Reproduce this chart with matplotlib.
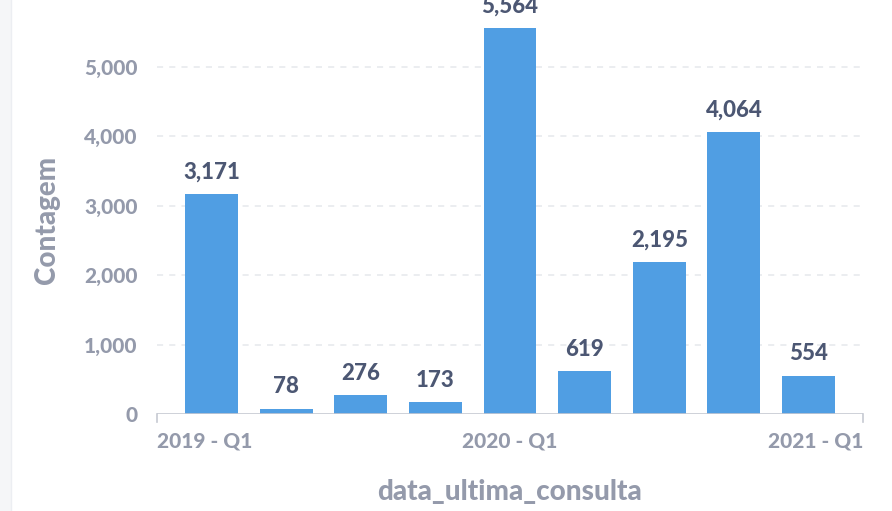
import matplotlib
matplotlib.use("Agg")
import matplotlib.pyplot as plt
from matplotlib.patches import Rectangle
from matplotlib.lines import Line2D

quarters = ["2019 - Q1", "2019 - Q2", "2019 - Q3", "2019 - Q4", "2020 - Q1",
            "2020 - Q2", "2020 - Q3", "2020 - Q4", "2021 - Q1"]
counts = [3171, 78, 276, 173, 5564, 619, 2195, 4064, 554]
shown_ticks = ["2019 - Q1", "2020 - Q1", "2021 - Q1"]
y_ticks = [0, 1000, 2000, 3000, 4000, 5000]

BLUE = "#509ee3"
DARK = "#4c5773"
GRAY = "#949aab"
WEIGHT = 900

plt.rcParams["font.family"] = ["Lato", "DejaVu Sans"]

W, H = 892, 511
fig = plt.figure(figsize=(W / 100, H / 100), dpi=100)
left, right = 157 / W, 863 / W
bottom = 1 - 414 / H
top_px = 414 - 5.6 * 69.4
ax_h_px = 414 - top_px
ax = fig.add_axes([left, bottom, right - left, ax_h_px / H])

x = list(range(len(counts)))
ax.bar(x, counts, width=0.71, color=BLUE, zorder=3)
ax.set_xlim(-0.73, len(counts) - 1 + 0.73)
ax.set_ylim(0, 5600)

for xi, v in zip(x, counts):
    ax.annotate(f"{v:,}", (xi, v), xytext=(0, 8), textcoords="offset points",
                ha="center", va="bottom", fontsize=16, fontweight=WEIGHT,
                color=DARK, annotation_clip=False, clip_on=False)

for s in ["top", "right", "left", "bottom"]:
    ax.spines[s].set_visible(False)

for t in y_ticks[1:]:
    ax.axhline(t, color="#e6e8ec", lw=1.1, ls=(0, (4, 4)), zorder=1)
ax.axhline(0, color="#c6c9d2", lw=1.2, zorder=4)

ax.set_yticks(y_ticks)
ax.set_yticklabels([f"{t:,}" for t in y_ticks])
ax.tick_params(axis="y", length=0, pad=14, labelsize=15, labelcolor=GRAY)
for lab in ax.get_yticklabels():
    lab.set_fontweight(WEIGHT)

ax.set_xticks([])
for xe in [0, 1]:
    ax.add_line(Line2D([xe, xe], [0, -8 / ax_h_px], transform=ax.transAxes,
                       color="#c6c9d2", lw=1.2, clip_on=False))

idx = {q: i for i, q in enumerate(quarters)}
y_lab = -27 / ax_h_px
for q in shown_ticks:
    i = idx[q]
    if i == 0:
        ax.text(0, y_lab, q, transform=ax.transAxes, ha="left", va="center",
                fontsize=15, fontweight=WEIGHT, color=GRAY)
    elif i == len(quarters) - 1:
        ax.text(1, y_lab, q, transform=ax.transAxes, ha="right", va="center",
                fontsize=15, fontweight=WEIGHT, color=GRAY)
    else:
        ax.text(i, y_lab, q, transform=ax.get_xaxis_transform(), ha="center",
                va="center", fontsize=15, fontweight=WEIGHT, color=GRAY)

fig.text(509 / W, 1 - 492 / H, "data_ultima_consulta", ha="center", va="center",
         fontsize=20, fontweight=WEIGHT, color=GRAY)
fig.text(47 / W, 1 - 220 / H, "Contagem", ha="center", va="center", rotation=90,
         fontsize=20, fontweight=WEIGHT, color=GRAY)

fig.patches.append(Rectangle((0, 0), 10 / W, 1, transform=fig.transFigure,
                             color="#f5f6f8", zorder=0))
fig.lines.append(Line2D([11 / W, 11 / W], [0, 1], transform=fig.transFigure,
                        color="#eceef2", lw=1))

fig.savefig("out.png", dpi=100)
